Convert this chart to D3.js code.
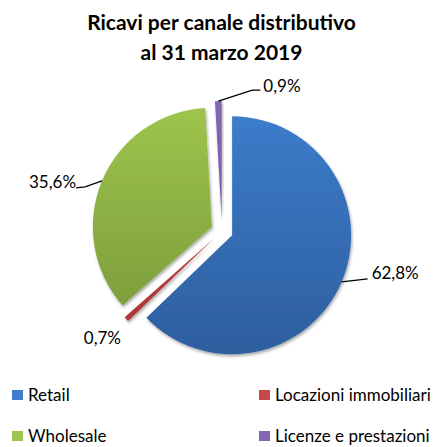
<!DOCTYPE html>
<html lang="it">
  <head>
    <meta charset="utf-8">
    <title>Ricavi per canale distributivo</title>
    <script type="text/javascript" src="https://cdn.jsdelivr.net/npm/d3@7"></script>
    <style>
      body { margin: 0; background: #fff; }
      text { font-family: Lato, "Open Sans", sans-serif; fill: #000; }
    </style>
  </head>
  <body>
    <script type="text/javascript">
      var width = 443;
      var height = 447;

      var titleLines = ["Ricavi per canale distributivo", "al 31 marzo 2019"];
      var categories = ["Retail", "Locazioni immobiliari", "Wholesale", "Licenze e prestazioni"];
      var values = [62.8, 0.7, 35.6, 0.9];
      var valueLabels = ["62,8%", "0,7%", "35,6%", "0,9%"];
      var colorsTop = ["#3c7cca", "#c44a47", "#9dc44c", "#8565b4"];
      var colorsBottom = ["#2d5e9e", "#a83533", "#77983a", "#6e4f9c"];

      var cx = 222, cy = 231, radius = 119, explode = 11;

      var svg = d3.select("body")
            .append("svg")
            .attr("width", width)
            .attr("height", height);

      var defs = svg.append("defs");
      var shadow = defs.append("filter")
            .attr("id", "shadow")
            .attr("x", "-20%").attr("y", "-20%")
            .attr("width", "140%").attr("height", "140%");
      shadow.append("feDropShadow")
            .attr("dx", 1).attr("dy", 2)
            .attr("stdDeviation", 1.5)
            .attr("flood-color", "#000")
            .attr("flood-opacity", 0.35);

      // vertical gradients, in the slice group's space
      categories.forEach(function(c, i) {
        var g = defs.append("linearGradient")
              .attr("id", "grad" + i)
              .attr("gradientUnits", "userSpaceOnUse")
              .attr("x1", 0).attr("y1", -radius)
              .attr("x2", 0).attr("y2", radius);
        g.append("stop").attr("offset", "0%").attr("stop-color", colorsTop[i]);
        g.append("stop").attr("offset", "100%").attr("stop-color", colorsBottom[i]);
      });

      // title
      svg.selectAll("text.title")
         .data(titleLines)
         .enter()
         .append("text")
         .attr("class", "title")
         .attr("x", width / 2)
         .attr("y", function(d, i) { return 30 + i * 30; })
         .attr("text-anchor", "middle")
         .attr("font-size", "21px")
         .attr("font-weight", "bold")
         .text(function(d) { return d; });

      var pie = d3.pie().sort(null).value(function(d) { return d; });
      var arcs = pie(values);
      var arc = d3.arc().innerRadius(0).outerRadius(radius);

      function midDir(d) {
        var a = (d.startAngle + d.endAngle) / 2;
        return [Math.sin(a), -Math.cos(a)];
      }

      var slices = svg.append("g")
            .attr("transform", "translate(" + cx + "," + cy + ")");

      slices.selectAll("path")
         .data(arcs)
         .enter()
         .append("path")
         .attr("d", arc)
         .attr("transform", function(d) {
           var m = midDir(d);
           return "translate(" + (m[0] * explode) + "," + (m[1] * explode) + ")";
         })
         .attr("fill", function(d, i) { return "url(#grad" + i + ")"; })
         .attr("filter", "url(#shadow)");

      // data labels: outer point of each exploded slice
      function outerPoint(d) {
        var m = midDir(d);
        var r = radius + explode;
        return [cx + m[0] * r, cy + m[1] * r];
      }

      // leader elbows and text placement, per slice (relative to outer point)
      var labelLayout = [
        { line: [[26, -3]], tx: 30, ty: -9, anchor: "start" },
        { line: null, tx: -24, ty: 19, anchor: "middle" },
        { line: [[-17, 6], [-26, 7]], tx: -26, ty: 1, anchor: "end" },
        { line: [[34, -11], [42, -11]], tx: 45, ty: -15, anchor: "start" }
      ];

      var labels = svg.append("g");
      arcs.forEach(function(d, i) {
        var p = outerPoint(d);
        var lay = labelLayout[i];
        if (lay.line) {
          var pts = [p].concat(lay.line.map(function(q) { return [p[0] + q[0], p[1] + q[1]]; }));
          labels.append("path")
             .attr("d", d3.line()(pts))
             .attr("fill", "none")
             .attr("stroke", "#000")
             .attr("stroke-width", 1.3);
        }
        labels.append("text")
           .attr("x", p[0] + lay.tx)
           .attr("y", p[1] + lay.ty)
           .attr("dy", "0.35em")
           .attr("text-anchor", lay.anchor)
           .attr("font-size", "17px")
           .text(valueLabels[i]);
      });

      // legend, two columns
      var legendX = d3.scaleOrdinal().domain([0, 1]).range([12, 259]);
      var legendY = d3.scaleOrdinal().domain([0, 1]).range([395, 436]);
      var legend = svg.selectAll("g.legend")
         .data(categories)
         .enter()
         .append("g")
         .attr("class", "legend")
         .attr("transform", function(d, i) {
           return "translate(" + legendX(i % 2) + "," + legendY(Math.floor(i / 2)) + ")";
         });
      legend.append("rect")
         .attr("x", 0).attr("y", -5)
         .attr("width", 11).attr("height", 10)
         .attr("fill", function(d, i) { return colorsTop[i]; });
      legend.append("text")
         .attr("x", 16)
         .attr("y", 0)
         .attr("dy", "0.35em")
         .attr("font-size", "17px")
         .text(function(d) { return d; });
    </script>
  </body>
</html>
